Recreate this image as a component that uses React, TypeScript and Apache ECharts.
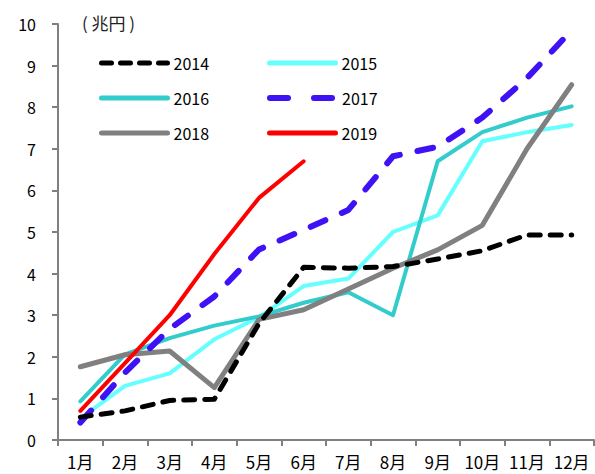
import React, { useEffect, useRef } from "react";
import * as echarts from "echarts";

const months = ["1月", "2月", "3月", "4月", "5月", "6月", "7月", "8月", "9月", "10月", "11月", "12月"];
const yTicks = [0, 1, 2, 3, 4, 5, 6, 7, 8, 9, 10];

const s2014 = [0.55, 0.7, 0.95, 0.98, 2.8, 4.15, 4.13, 4.17, 4.35, 4.55, 4.93, 4.93];
const s2015 = [0.52, 1.3, 1.6, 2.42, 2.95, 3.7, 3.88, 5.0, 5.4, 7.18, 7.4, 7.57];
const s2016 = [0.93, 2.06, 2.45, 2.75, 2.97, 3.3, 3.55, 3.0, 6.7, 7.4, 7.75, 8.02];
const s2017 = [0.42, 1.62, 2.67, 3.45, 4.58, 5.05, 5.53, 6.82, 7.05, 7.75, 8.7, 9.85];
const s2018 = [1.76, 2.05, 2.14, 1.26, 2.9, 3.13, 3.63, 4.13, 4.57, 5.16, 7.0, 8.54];
const s2019 = [0.7, 1.85, 3.0, 4.47, 5.82, 6.7];

export default function App() {
  const ref = useRef<HTMLDivElement>(null);
  useEffect(() => {
    document.body.style.margin = "0";
    const chart = echarts.init(ref.current!, null, { renderer: "svg" });
    const font = "'Noto Sans CJK JP', 'Noto Sans', sans-serif";
    const mk = (name: string, data: number[], color: string, width: number, type: any, z = 2) => ({
      name,
      type: "line",
      data,
      symbol: "none",
      showSymbol: false,
      z,
      lineStyle: { color, width, type, cap: "round", join: "round" },
      itemStyle: { color },
    });
    const leg = (name: string, left: number, top: number, color: string, width: number, type: any) => ({
      data: [name],
      left,
      top,
      itemWidth: 66,
      itemHeight: 14,
      padding: 0,
      itemGap: 0,
      itemStyle: { opacity: 0 },
      lineStyle: { color, width, type, cap: "round", join: "round" },
      textStyle: { fontFamily: font, fontSize: 16, color: "#000", padding: [0, 0, 0, 1] },
      selectedMode: false,
    });
    chart.setOption({
      animation: false,
      backgroundColor: "#fff",
      grid: { left: 58, right: 1, top: 24, bottom: 34, containLabel: false },
      legend: [
        leg("2014", 99, 55, "#000000", 5, [10, 9]),
        leg("2015", 267, 55, "#66FFFF", 5, "solid"),
        leg("2016", 99, 90, "#33CCCC", 5, "solid"),
        leg("2017", 267, 90, "#3F12F5", 6, [18, 26]),
        leg("2018", 99, 125, "#808080", 5, "solid"),
        leg("2019", 267, 125, "#FF0000", 5, "solid"),
      ],
      graphic: [
        {
          type: "text",
          left: 82,
          top: 14,
          style: { text: "( 兆円 )", font: `17px ${font}`, fill: "#222" },
        },
      ],
      xAxis: {
        type: "category",
        data: months,
        boundaryGap: true,
        axisLine: { lineStyle: { color: "#808080", width: 2 } },
        axisTick: { show: true, length: 6, lineStyle: { color: "#808080", width: 2 } },
        axisLabel: { color: "#000", fontSize: 17, fontFamily: font, margin: 13, interval: 0 },
        splitLine: { show: false },
      },
      yAxis: {
        type: "value",
        min: yTicks[0],
        max: yTicks[yTicks.length - 1],
        interval: 1,
        axisLine: { show: true, lineStyle: { color: "#808080", width: 2 } },
        axisTick: { show: true, length: 6, lineStyle: { color: "#808080", width: 2 } },
        axisLabel: { color: "#000", fontSize: 16, fontFamily: font, margin: 22 },
        splitLine: { show: false },
      },
      series: [
        mk("2014", s2014, "#000000", 5, [11, 10], 6),
        mk("2015", s2015, "#66FFFF", 4, "solid", 2),
        mk("2016", s2016, "#33CCCC", 4, "solid", 3),
        mk("2017", s2017, "#3F12F5", 6, [16, 18], 5),
        mk("2018", s2018, "#808080", 5, "solid", 4),
        mk("2019", s2019, "#FF0000", 4, "solid", 7),
      ],
    });
    return () => chart.dispose();
  }, []);
  return <div ref={ref} style={{ width: 595, height: 474 }} />;
}
